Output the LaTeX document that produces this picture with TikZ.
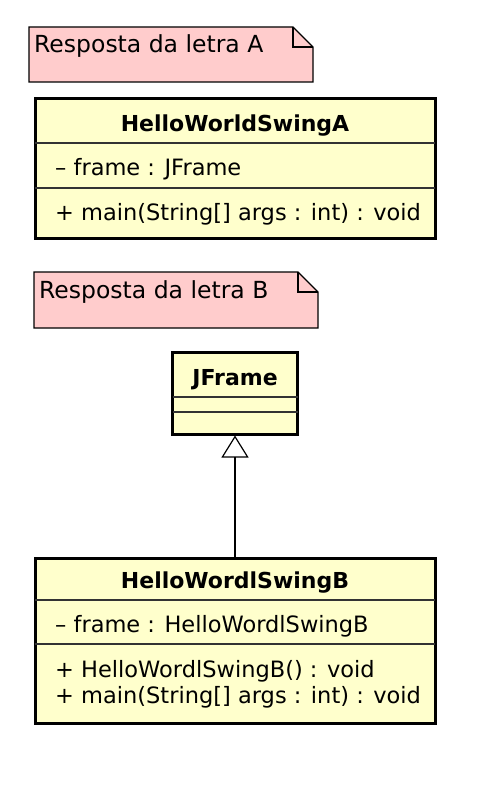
\documentclass[tikz,border=0pt]{standalone}
\usepackage{fontspec}
\setmainfont{DejaVu Sans}
\usetikzlibrary{arrows.meta}
\definecolor{classfill}{RGB}{255,255,204}
\definecolor{notefill}{RGB}{255,204,204}
\tikzset{
  cls/.style={draw,line width=3pt,fill=classfill,inner sep=0pt},
  sep/.style={draw=black!80,line width=1.5pt},
  note/.style={draw,line width=1.2pt,fill=notefill},
  member/.style={anchor=base west,inner sep=0pt,font=\fontsize{22.5}{27}\selectfont},
  cname/.style={anchor=base,inner sep=0pt,font=\fontsize{22}{26}\selectfont\bfseries},
}
\begin{document}
\begin{tikzpicture}[x=1pt,y=-1pt]
\useasboundingbox (0,0) rectangle (494,786);
% notes
\foreach \l/\t/\r/\b/\ltr in {29/27/313/82/A,34/272/318/328/B} {
  \draw[note] (\l,\t)--(\r-20,\t)--(\r,\t+20)--(\r,\b)--(\l,\b)--cycle;
  \draw[line width=1.2pt] (\r-20,\t)--(\r-20,\t+20)--(\r,\t+20);
  \node[member,font=\fontsize{23.5}{28}\selectfont] (note\ltr) at (\l+5,\t+26) {Resposta da letra \ltr};
}
% class A
\node[cls,minimum width=400pt,minimum height=139pt] (clsA) at (235,168.5) {};
\draw[sep] (35,143)--(435,143);
\draw[sep] (35,188)--(435,188);
\node[cname] (nameA) at (235,132) {HelloWorldSwingA};
\node[member] (attrA) at (55,176) {– frame : JFrame};
\node[member] (mainA) at (55,221) {+ main(String[] args : int) : void};
% JFrame
\node[cls,minimum width=125pt,minimum height=82pt] (jframe) at (235,393) {};
\draw[sep] (172.5,397)--(297.5,397);
\draw[sep] (172.5,412)--(297.5,412);
\node[cname] (nameJ) at (235,385) {JFrame};
% class B
\node[cls,minimum width=400pt,minimum height=165pt] (clsB) at (235,640.5) {};
\draw[sep] (35,600)--(435,600);
\draw[sep] (35,644)--(435,644);
\node[cname] (nameB) at (235,588) {HelloWordlSwingB};
\node[member] (attrB) at (55,632) {– frame : HelloWordlSwingB};
\node[member] (ctorB) at (55,677) {+ HelloWordlSwingB() : void};
\node[member] (mainB) at (55,703) {+ main(String[] args : int) : void};
% generalization
\draw[line width=1.2pt,-{Triangle[open,fill=white,length=22pt,width=27pt]}] (clsB.north)--(jframe.south);
\end{tikzpicture}
\end{document}
